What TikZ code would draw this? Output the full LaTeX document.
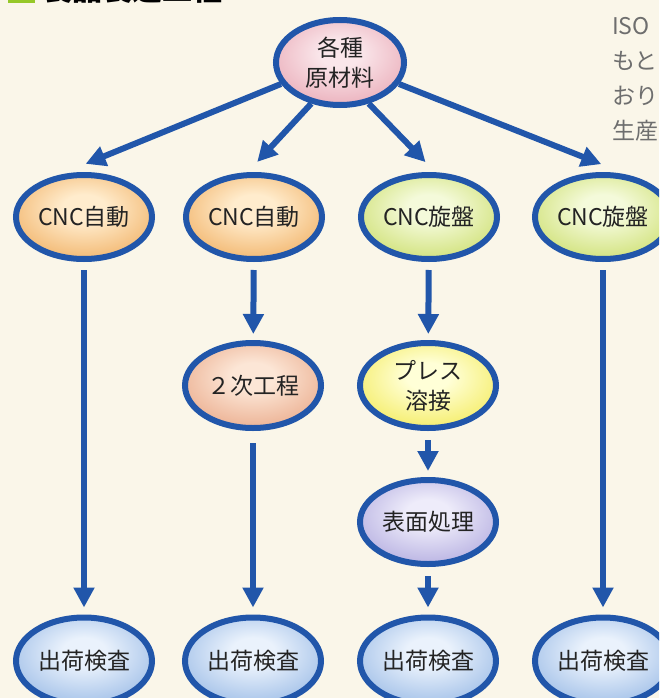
\documentclass[tikz,border=0pt]{standalone}
\usepackage{fontspec}
\setmainfont{Noto Sans CJK JP}
\usetikzlibrary{shapes.geometric,arrows.meta}
\definecolor{bg}{RGB}{250,246,233}
\definecolor{bord}{RGB}{33,86,170}
\definecolor{txt}{RGB}{35,35,35}
\definecolor{side}{RGB}{110,110,110}
\definecolor{titlegreen}{RGB}{150,200,40}
\definecolor{pinkI}{RGB}{250,230,234}\definecolor{pinkO}{RGB}{222,132,150}
\definecolor{oranI}{RGB}{255,236,205}\definecolor{oranO}{RGB}{232,140,36}
\definecolor{salmI}{RGB}{252,230,214}\definecolor{salmO}{RGB}{222,132,90}
\definecolor{grnI}{RGB}{244,250,218}\definecolor{grnO}{RGB}{180,206,44}
\definecolor{yelI}{RGB}{255,255,215}\definecolor{yelO}{RGB}{236,222,14}
\definecolor{lavI}{RGB}{238,236,250}\definecolor{lavO}{RGB}{140,130,206}
\definecolor{bluI}{RGB}{234,242,252}\definecolor{bluO}{RGB}{104,152,216}
\newcommand\mkshade[3]{\pgfdeclareradialshading{#1}{\pgfpoint{0bp}{6bp}}{color(0bp)=(#2); color(8bp)=(#2); color(30bp)=(#2!45!#3); color(48bp)=(#3); color(80bp)=(#3)}}
\mkshade{shpink}{pinkI}{pinkO}
\mkshade{shoran}{oranI}{oranO}
\mkshade{shsalm}{salmI}{salmO}
\mkshade{shgrn}{grnI}{grnO}
\mkshade{shyel}{yelI}{yelO}
\mkshade{shlav}{lavI}{lavO}
\mkshade{shblu}{bluI}{bluO}
\begin{document}
\begin{tikzpicture}[x=1pt,y=-1pt,
  proc/.style={ellipse, draw=bord, line width=6pt, minimum width=136pt, minimum height=84pt,
    inner sep=0pt, text=txt, align=center, font=\fontsize{23}{30}\selectfont},
  arr/.style={draw=bord, line width=6pt, -{Triangle[width=20pt,length=20pt]}}]
\useasboundingbox (0,0) rectangle (659,698);
\clip (0,0) rectangle (659,698);
\fill[bg] (0,0) rectangle (659,698);
% cut-off heading and side text
\fill[titlegreen] (8,-22) rectangle (35,3);
\node[anchor=base west, inner sep=0pt, font=\fontsize{30}{30}\selectfont\bfseries, text=black] (title) at (42,1) {製品製造工程};
\begin{scope}[every node/.style={anchor=west, inner sep=0pt, text=side, font=\fontsize{23}{23}\selectfont}]
\node (s1) at (612,26) {ISO};
\node (s2) at (612,61) {もと};
\node (s3) at (612,96) {おり};
\node (s4) at (612,131) {生産};
\end{scope}
% nodes
\node[proc, shading=shpink, minimum width=128pt, minimum height=85pt] (a) at (340,62.5) {各種\\原材料};
\node[proc, shading=shoran] (c1) at (84,217) {CNC自動};
\node[proc, shading=shoran] (c2) at (254,217) {CNC自動};
\node[proc, shading=shgrn] (c3) at (429,217) {CNC旋盤};
\node[proc, shading=shgrn] (c4) at (603,217) {CNC旋盤};
\node[proc, shading=shsalm, minimum height=85pt] (n2) at (253,385.5) {２次工程};
\node[proc, shading=shyel, minimum height=85pt] (p3) at (428,385.5) {プレス\\溶接};
\node[proc, shading=shlav] (t3) at (428,522) {表面処理};
\node[proc, shading=shblu, minimum height=87pt] (e1) at (84,661) {出荷検査};
\node[proc, shading=shblu, minimum height=87pt] (e2) at (253,661) {出荷検査};
\node[proc, shading=shblu, minimum height=87pt] (e3) at (428,661) {出荷検査};
\node[proc, shading=shblu, minimum height=87pt] (e4) at (603,661) {出荷検査};
% arrows from top
\draw[arr, shorten >=30pt] (a.200) -- (c1.122);
\draw[arr, shorten >=14pt] (a.235) -- (c2.98);
\draw[arr, shorten >=14pt] (a.305) -- (c3.82);
\draw[arr, shorten >=30pt] (a.340) -- (c4.58);
% verticals
\draw[arr, shorten <=8pt, shorten >=7pt] (c1) -- (e1);
\draw[arr, shorten <=8pt, shorten >=6pt] (c2) -- (n2);
\draw[arr, shorten <=12pt, shorten >=7pt] (n2) -- (e2);
\draw[arr, shorten <=8pt, shorten >=6pt] (c3) -- (p3);
\draw[arr, shorten <=9pt, shorten >=6pt] (p3) -- (t3);
\draw[arr, shorten <=9pt, shorten >=7pt] (t3) -- (e3);
\draw[arr, shorten <=8pt, shorten >=7pt] (c4) -- (e4);
\end{tikzpicture}
\end{document}
